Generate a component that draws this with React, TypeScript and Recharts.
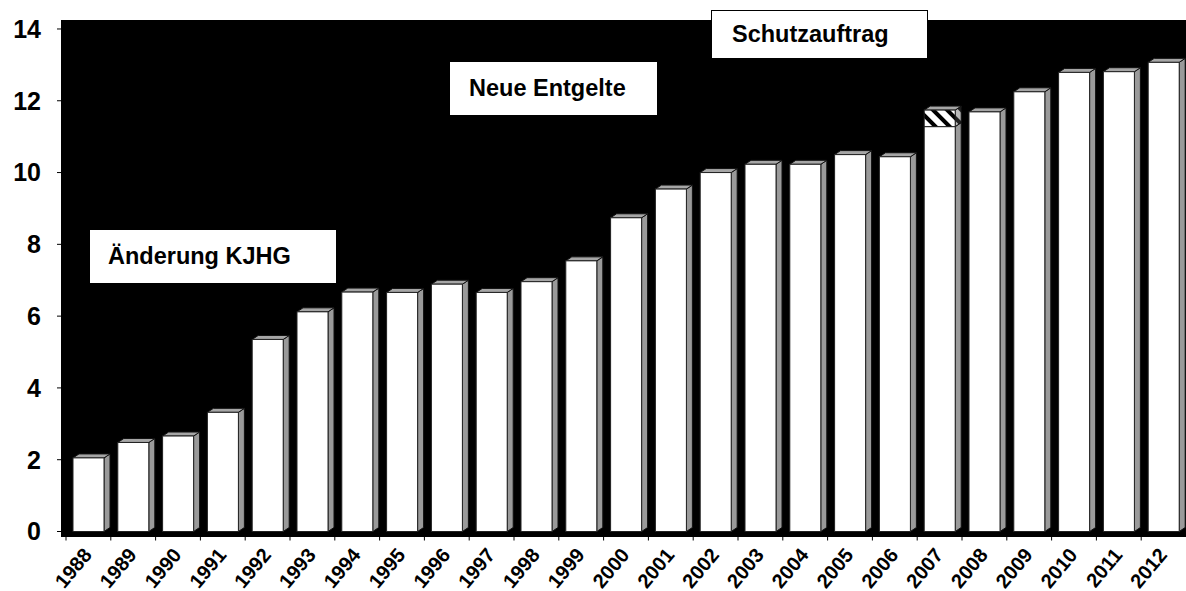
import React from 'react';
import { BarChart, Bar, XAxis, YAxis } from 'recharts';

// chart values
const years = [
  '1988', '1989', '1990', '1991', '1992', '1993', '1994', '1995', '1996',
  '1997', '1998', '1999', '2000', '2001', '2002', '2003', '2004', '2005',
  '2006', '2007', '2008', '2009', '2010', '2011', '2012'
];
const baseValues = [
  2.05, 2.48, 2.66, 3.32, 5.35, 6.12, 6.67, 6.66, 6.89, 6.66, 6.96, 7.54,
  8.74, 9.54, 10.0, 10.23, 10.23, 10.5, 10.44, 11.28, 11.69, 12.25, 12.79,
  12.81, 13.07
];
// hatched extra on top of 2007
const extraValues: (number | null)[] = [
  null, null, null, null, null, null, null, null, null, null, null, null,
  null, null, null, null, null, null, null, 0.46, null, null, null, null, null
];
const yTicks = [0, 2, 4, 6, 8, 10, 12, 14];

const notes = [
  { text: 'Änderung KJHG', left: 89, top: 229, width: 248, height: 55, padLeft: 18 },
  { text: 'Neue Entgelte', left: 449, top: 61, width: 209, height: 55, padLeft: 19 },
  { text: 'Schutzauftrag', left: 711, top: 10, width: 217, height: 49, padLeft: 20 },
];

const data = years.map((year, i) => ({
  year,
  base: baseValues[i],
  extra: extraValues[i],
}));

const FONT = '"Liberation Sans", Arial, sans-serif';
const DX = 6;
const DY = 4;
const BAND = 1120 / years.length;

function Box3D(props: any) {
  const { x, y, width, height, fill, drawTop, sideFill } = props;
  if (!height || height <= 0) return null;
  const r = x + width;
  const b = y + height;
  return (
    <g>
      <polygon
        points={`${r},${b} ${r + DX},${b - DY} ${r + DX},${y - DY} ${r},${y}`}
        fill={sideFill}
        stroke="#111"
        strokeWidth={1}
      />
      {drawTop && (
        <polygon
          points={`${x},${y} ${x + DX},${y - DY} ${r + DX},${y - DY} ${r},${y}`}
          fill="#a6a6a6"
          stroke="#111"
          strokeWidth={1}
        />
      )}
      <rect x={x} y={y} width={width} height={height} fill={fill} stroke="#222" strokeWidth={1} />
    </g>
  );
}

const BaseShape = (props: any) => (
  <Box3D {...props} fill="#ffffff" sideFill="#9a9a9a" drawTop={!props.payload?.extra} />
);

const ExtraShape = (props: any) => (
  <Box3D {...props} fill="url(#hatch)" sideFill="url(#hatchSide)" drawTop={true} />
);

function YearTick({ x, y, payload }: any) {
  return (
    <g>
      <line x1={x - BAND / 2} x2={x - BAND / 2} y1={y + 5} y2={y + 9} stroke="#000" strokeWidth={1} />
      <text
        transform={`translate(${x + 4.5},${y + 24}) rotate(-50)`}
        textAnchor="end"
        fontSize={20}
        fontWeight={700}
        fontFamily={FONT}
        fill="#000"
      >
        {payload.value}
      </text>
    </g>
  );
}

export default function App() {
  return (
    <div style={{ position: 'absolute', left: 0, top: 0, width: 1186, height: 591, background: '#fff', overflow: 'hidden' }}>
      {/* back wall and floor */}
      <div style={{ position: 'absolute', left: 61, top: 20, width: 1125, height: 516.5, background: '#000' }} />
      <div style={{ position: 'absolute', left: 0, top: 0 }}>
        <BarChart
          width={1186}
          height={591}
          data={data}
          margin={{ top: 20, right: 0, bottom: 0, left: 0 }}
          barSize={31}
        >
          <defs>
            <pattern id="hatch" patternUnits="userSpaceOnUse" width={10} height={10} patternTransform="rotate(-45)">
              <rect x={0} y={0} width={10} height={10} fill="#fff" />
              <rect x={0} y={0} width={4} height={10} fill="#000" />
            </pattern>
            <pattern id="hatchSide" patternUnits="userSpaceOnUse" width={10} height={10} patternTransform="rotate(-45)">
              <rect x={0} y={0} width={10} height={10} fill="#bbb" />
              <rect x={0} y={0} width={4} height={10} fill="#222" />
            </pattern>
          </defs>
          <XAxis
            dataKey="year"
            height={59.5}
            axisLine={false}
            tickLine={false}
            tickSize={0}
            tickMargin={0}
            interval={0}
            padding={{ left: 5, right: 0 }}
            tick={<YearTick />}
          />
          <YAxis
            width={61}
            domain={[0, 14.25]}
            ticks={yTicks}
            axisLine={false}
            tickLine={{ stroke: '#000' }}
            tickSize={4}
            tickMargin={16}
            tick={{ fill: '#000', fontSize: 25, fontWeight: 700, fontFamily: FONT }}
          />
          <Bar dataKey="base" stackId="a" shape={<BaseShape />} isAnimationActive={false} />
          <Bar dataKey="extra" stackId="a" shape={<ExtraShape />} isAnimationActive={false} />
        </BarChart>
      </div>
      {notes.map((n) => (
        <div
          key={n.text}
          style={{
            position: 'absolute',
            left: n.left,
            top: n.top,
            width: n.width,
            height: n.height,
            boxSizing: 'border-box',
            background: '#fff',
            border: '1.5px solid #000',
            paddingLeft: n.padLeft,
            display: 'flex',
            alignItems: 'center',
            fontFamily: FONT,
            fontWeight: 700,
            fontSize: 23.5,
            color: '#000',
          }}
        >
          {n.text}
        </div>
      ))}
    </div>
  );
}
